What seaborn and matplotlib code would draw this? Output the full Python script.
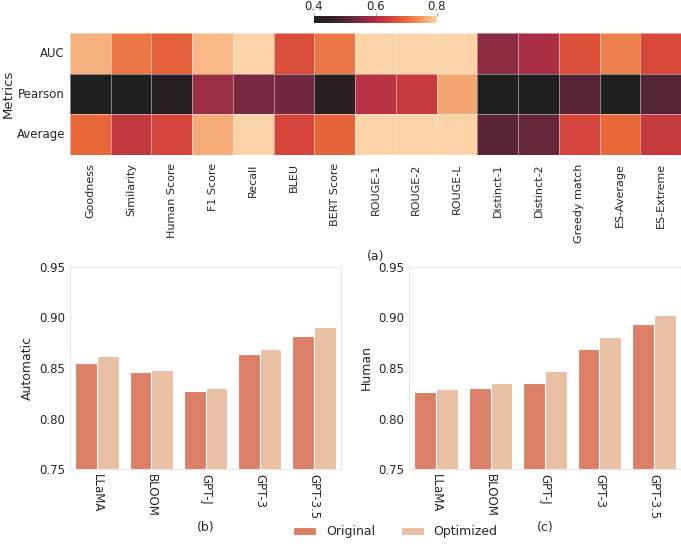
import numpy as np
import pandas as pd
import matplotlib
matplotlib.use("Agg")
import matplotlib.pyplot as plt
import seaborn as sns

# heatmap data (a)
metric_cols = ["Goodness", "Similarity", "Human Score", "F1 Score", "Recall", "BLEU",
               "BERT Score", "ROUGE-1", "ROUGE-2", "ROUGE-L", "Distinct-1", "Distinct-2",
               "Greedy match", "ES-Average", "ES-Extreme"]
metric_rows = ["AUC", "Pearson", "Average"]
auc_vals = [0.77, 0.715, 0.69, 0.775, 0.80, 0.665, 0.715, 0.80, 0.80, 0.80, 0.565, 0.595, 0.67, 0.725, 0.66]
pearson_vals = [0.38, 0.38, 0.43, 0.58, 0.545, 0.535, 0.43, 0.61, 0.63, 0.76, 0.38, 0.38, 0.51, 0.38, 0.505]
average_vals = [0.70, 0.625, 0.655, 0.765, 0.80, 0.655, 0.695, 0.80, 0.80, 0.80, 0.51, 0.525, 0.655, 0.70, 0.63]

# bar data (b) and (c)
models = ["LLaMA", "BLOOM", "GPT-J", "GPT-3", "GPT-3.5"]
auto_original = [0.855, 0.846, 0.827, 0.864, 0.882]
auto_optimized = [0.862, 0.848, 0.830, 0.869, 0.891]
human_original = [0.826, 0.830, 0.835, 0.869, 0.894]
human_optimized = [0.829, 0.835, 0.847, 0.881, 0.902]

sns.set_theme(style="white", rc={"axes.edgecolor": "0.9", "axes.linewidth": 0.8})
plt.rcParams["font.family"] = ["DejaVu Sans"]

cmap = sns.blend_palette(["#1f1f1f", "#2e1f24", "#4e2433", "#7d2a41", "#b03044",
                          "#d4413b", "#e8683a", "#f29a62", "#fdd3a7"], as_cmap=True)

fig = plt.figure(figsize=(6.81, 5.44), dpi=100)
W, H = 681, 544
def box(l, t, r, b):
    return [l / W, 1 - b / H, (r - l) / W, (b - t) / H]

ax_hm = fig.add_axes(box(70, 33, 681, 155))
ax_cb = fig.add_axes(box(314, 16, 437, 22.5))
ax_b = fig.add_axes(box(70, 267, 341, 469))
ax_c = fig.add_axes(box(409, 267, 681, 469))

heat = pd.DataFrame([auc_vals, pearson_vals, average_vals], index=metric_rows, columns=metric_cols)
sns.heatmap(heat, ax=ax_hm, cmap=cmap, vmin=0.4, vmax=0.8, linewidths=0.6,
            linecolor=(1, 1, 1, 0.45), cbar_ax=ax_cb,
            cbar_kws={"orientation": "horizontal", "ticks": [0.4, 0.6, 0.8]})
ax_hm.set_ylabel("Metrics", fontsize=9.5)
ax_hm.yaxis.set_label_coords(-0.09, 0.5)
ax_hm.set_xlabel("")
ax_hm.tick_params(axis="x", labelsize=8, rotation=90, length=0, pad=6)
ax_hm.tick_params(axis="y", labelsize=8.5, rotation=0, length=0)
ax_cb.xaxis.set_ticks_position("top")
ax_cb.tick_params(labelsize=8.5, length=2, color="0.6", width=0.6, pad=0.5)
for sp in ax_cb.spines.values():
    sp.set_visible(False)
ax_hm.text(0.5, -0.83, "(a)", transform=ax_hm.transAxes, ha="center", va="center", fontsize=9)

colors = ["#dc7f67", "#e9bfa5"]
for ax, orig, opt, ylab, tag in [(ax_b, auto_original, auto_optimized, "Automatic", "(b)"),
                                 (ax_c, human_original, human_optimized, "Human", "(c)")]:
    df = pd.DataFrame({"model": models * 2,
                       "score": orig + opt,
                       "kind": ["Original"] * len(models) + ["Optimized"] * len(models)})
    sns.barplot(data=df, x="model", y="score", hue="kind", palette=colors, ax=ax,
                edgecolor="white", linewidth=0.8, saturation=1)
    ax.set_ylim(0.75, 0.95)
    ax.set_yticks([0.75, 0.80, 0.85, 0.90, 0.95])
    ax.set_yticklabels(["0.75", "0.80", "0.85", "0.90", "0.95"])
    ax.set_ylabel(ylab, fontsize=9)
    ax.set_xlabel("")
    ax.tick_params(axis="x", labelsize=8.5, rotation=270, length=0)
    ax.tick_params(axis="y", labelsize=8.5, length=0)
    ax.legend_.remove()
    ax.text(0.5, -0.29, tag, transform=ax.transAxes, ha="center", va="center", fontsize=9)

handles, labels = ax_b.get_legend_handles_labels()
fig.legend(handles, labels, loc="center", bbox_to_anchor=(395.5 / W, 1 - 532 / H), ncol=2,
           frameon=False, fontsize=9, handlelength=1.85, handleheight=0.56,
           handletextpad=0.8, columnspacing=2.0)

fig.savefig("out.png", dpi=100)
